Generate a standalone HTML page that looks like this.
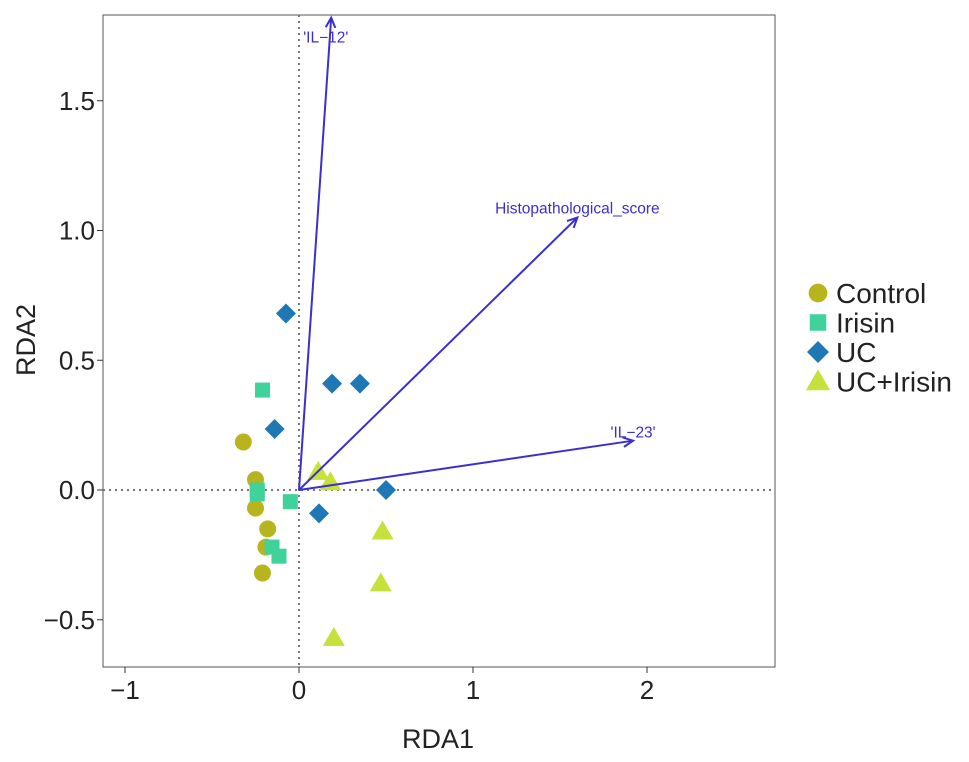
<!DOCTYPE html>
<html><head><meta charset="utf-8"><style>
body{margin:0;background:#fff;}
svg text{font-family:"Liberation Sans",sans-serif;}
</style></head><body>
<svg width="969" height="757">
<rect x="0" y="0" width="969" height="757" fill="#fff"/>
<g id="plot"></g>
</svg>
<script>
const groups=["Control","Irisin","UC","UC+Irisin"];
const colors=["#b8b41e","#3fd29a","#1f78b4","#c6e03c"];
const controlX=[-0.32,-0.25,-0.25,-0.18,-0.19,-0.21];
const controlY=[0.185,0.04,-0.07,-0.15,-0.22,-0.32];
const irisinX=[-0.21,-0.24,-0.24,-0.05,-0.155,-0.115];
const irisinY=[0.385,-0.015,0.0,-0.045,-0.22,-0.255];
const ucX=[-0.075,0.19,0.35,-0.14,0.5,0.115];
const ucY=[0.68,0.41,0.41,0.235,0.0,-0.09];
const ucIrX=[0.11,0.18,0.48,0.47,0.2];
const ucIrY=[0.07,0.03,-0.16,-0.36,-0.57];
const arrowNames=["'IL\u221212'","Histopathological_score","'IL\u221223'"];
const arrowX=[0.185,1.6,1.92];
const arrowY=[1.82,1.05,0.19];
const xTicks=[-1,0,1,2];
const yTicks=[-0.5,0.0,0.5,1.0,1.5];
const yTickLabels=["\u22120.5","0.0","0.5","1.0","1.5"];

const L=103,R=775,T=15,B=667;
const sx=v=>299+v*174;
const sy=v=>490-v*259.5;
const NS="http://www.w3.org/2000/svg";
const g=document.getElementById('plot');
function mk(tag,attrs,parent){const e=document.createElementNS(NS,tag);for(const k in attrs)e.setAttribute(k,attrs[k]);(parent||g).appendChild(e);return e;}

let frame=mk('rect',{x:L,y:T,width:R-L,height:B-T,fill:'none',stroke:'#555','stroke-width':1});


let h0=mk('line',{x1:L,x2:R,y1:sy(0),y2:sy(0),stroke:'#777','stroke-dasharray':'2,4','stroke-width':2});


let v0=mk('line',{x1:sx(0),x2:sx(0),y1:T,y2:B,stroke:'#777','stroke-dasharray':'2,4','stroke-width':2});



xTicks.forEach(t=>{
 let l=mk('line',{x1:sx(t),x2:sx(t),y1:B,y2:B+6,stroke:'#333'});
 
 
 let tx=mk('text',{x:sx(t),y:B+32,'text-anchor':'middle','font-size':26,fill:'#222'});
 tx.textContent=t<0?'\u2212'+(-t):String(t);
 
 
});
yTicks.forEach((t,i)=>{
 let l=mk('line',{x1:L-6,x2:L,y1:sy(t),y2:sy(t),stroke:'#333'});
 
 
 let tx=mk('text',{x:L-8,y:sy(t)+9,'text-anchor':'end','font-size':26,fill:'#222'});
 tx.textContent=yTickLabels[i];
 
 
});
let xt=mk('text',{x:438,y:748,'text-anchor':'middle','font-size':27,fill:'#222'});
xt.textContent='RDA1';


let yt=mk('text',{x:35,y:340,'text-anchor':'middle','font-size':27,fill:'#222',transform:'rotate(-90 35 340)'});
yt.textContent='RDA2';



function marker(shape,x,y,c,parent,k){
 k=k||1;let e;
 if(shape==0)e=mk('circle',{cx:x,cy:y,r:8.5*k,fill:c},parent);
 else if(shape==1)e=mk('rect',{x:x-7.5*k,y:y-7.5*k,width:15*k,height:15*k,fill:c},parent);
 else if(shape==2)e=mk('polygon',{points:`${x},${y-10*k} ${x+10*k},${y} ${x},${y+10*k} ${x-10*k},${y}`,fill:c},parent);
 else e=mk('polygon',{points:`${x},${y-11*k} ${x+11*k},${y+8*k} ${x-11*k},${y+8*k}`,fill:c},parent);
 return e;
}
const allX=[controlX,irisinX,ucX,ucIrX],allY=[controlY,irisinY,ucY,ucIrY];
const names=['control-point','irisin-point','uc-point','uc-irisin-point'];
allX.forEach((xs,gi)=>xs.forEach((v,i)=>{
 let m=marker(gi,sx(v),sy(allY[gi][i]),colors[gi]);
 
 
}));

const ac='#3b2fd0';
const labelOff=[[-28,25,'start'],[0,-4,'middle'],[0,-3,'middle']];
arrowX.forEach((v,i)=>{
 const x2=sx(v),y2=sy(arrowY[i]),x1=sx(0),y1=sy(0);
 let l=mk('line',{x1,y1,x2,y2,stroke:ac,'stroke-width':2});
 
 
 const a=Math.atan2(y2-y1,x2-x1),s=11;
 let h=mk('polyline',{points:`${x2-s*Math.cos(a-0.45)},${y2-s*Math.sin(a-0.45)} ${x2},${y2} ${x2-s*Math.cos(a+0.45)},${y2-s*Math.sin(a+0.45)}`,fill:'none',stroke:ac,'stroke-width':2});
 
 
 let t=mk('text',{x:x2+labelOff[i][0],y:y2+labelOff[i][1],'text-anchor':labelOff[i][2],'font-size':15.5,fill:ac});
 t.textContent=arrowNames[i];
 
 
});

const leg=mk('g',{});


groups.forEach((n,i)=>{
 const y=293+i*29.5;
 let m=marker(i,818,y,colors[i],leg,1.1);
 
 
 let t=mk('text',{x:836,y:y+10,'font-size':28,fill:'#222'},leg);
 t.textContent=n;
 
 
});
</script>
</body></html>
